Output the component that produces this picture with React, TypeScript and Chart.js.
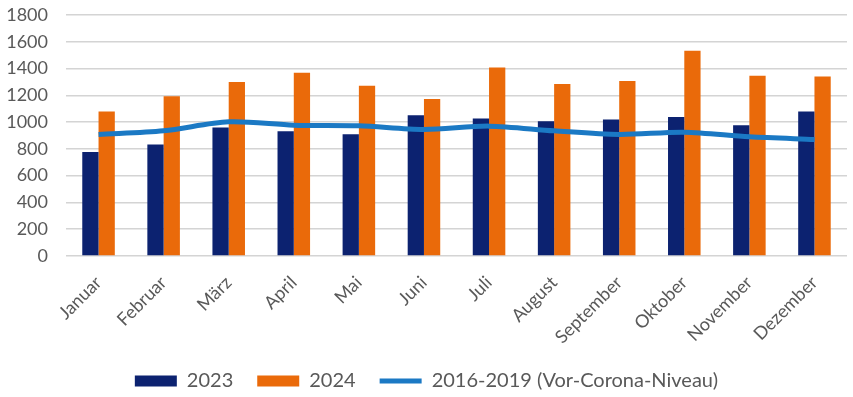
import React, { useEffect, useRef } from "react";
import { Chart, registerables } from "chart.js";

Chart.register(...registerables);

const months = ["Januar", "Februar", "März", "April", "Mai", "Juni", "Juli", "August", "September", "Oktober", "November", "Dezember"];
const values2023 = [776, 833, 960, 932, 910, 1051, 1027, 1007, 1019, 1039, 977, 1079];
const values2024 = [1079, 1193, 1300, 1369, 1272, 1173, 1408, 1285, 1307, 1533, 1347, 1341];
const preCorona = [908, 935, 1002, 977, 972, 945, 970, 935, 908, 925, 890, 870];
const yTicks = [0, 200, 400, 600, 800, 1000, 1200, 1400, 1600, 1800];

const NAVY = "#0c2270";
const ORANGE = "#ea6a0a";
const BLUE = "#1b79c4";
const TEXT = "#595959";
const FONT = "Lato, 'Open Sans', sans-serif";

export default function App() {
  const ref = useRef<HTMLCanvasElement | null>(null);

  useEffect(() => {
    if (!ref.current) return;
    const chart = new Chart(ref.current, {
      type: "bar",
      data: {
        labels: months,
        datasets: [
          {
            type: "bar",
            label: "2023",
            data: values2023,
            backgroundColor: NAVY,
            borderWidth: 0,
            barPercentage: 1,
            categoryPercentage: 0.5,
            order: 2,
          },
          {
            type: "bar",
            label: "2024",
            data: values2024,
            backgroundColor: ORANGE,
            borderWidth: 0,
            barPercentage: 1,
            categoryPercentage: 0.5,
            order: 2,
          },
          {
            type: "line",
            label: "2016-2019 (Vor-Corona-Niveau)",
            data: preCorona,
            borderColor: BLUE,
            backgroundColor: BLUE,
            borderWidth: 5,
            pointRadius: 0,
            tension: 0.3,
            order: 1,
          } as any,
        ],
      },
      options: {
        responsive: false,
        animation: false,
        layout: { padding: { top: 0, right: 6, left: 6, bottom: -4 } },
        plugins: {
          tooltip: { enabled: false },
          legend: {
            position: "bottom",
            labels: {
              color: TEXT,
              font: { family: FONT, size: 20 },
              usePointStyle: true,
              pointStyleWidth: 42,
              boxHeight: 11,
              padding: 24,
              sort: (a: any, b: any) => a.datasetIndex - b.datasetIndex,
              generateLabels: (c: any) => {
                const items = Chart.defaults.plugins.legend.labels.generateLabels(c);
                return items.map((it: any) => {
                  if (it.datasetIndex === 2) {
                    return { ...it, pointStyle: "line", lineWidth: 5, strokeStyle: BLUE, fillStyle: BLUE };
                  }
                  return { ...it, pointStyle: "rect", lineWidth: 0 };
                });
              },
            },
          },
        },
        scales: {
          x: {
            grid: { display: false },
            border: { display: false },
            ticks: {
              color: TEXT,
              font: { family: FONT, size: 18 },
              minRotation: 45,
              maxRotation: 45,
              padding: 8,
            },
            afterFit: (s: any) => {
              s.paddingLeft = 0;
              s.paddingRight = 0;
              s.height = 91;
            },
          },
          y: {
            min: 0,
            max: 1800,
            afterBuildTicks: (axis: any) => {
              axis.ticks = yTicks.map((v) => ({ value: v }));
            },
            grid: { color: "#d4d4d4", lineWidth: 1.5, drawTicks: false },
            border: { display: false },
            ticks: {
              color: TEXT,
              font: { family: FONT, size: 18, lineHeight: 1 },
              padding: 18,
              callback: (v: any) => String(v),
            },
            afterFit: (s: any) => {
              s.paddingTop = 15;
              s.paddingBottom = 0;
              s.width = 60;
            },
          },
        },
      },
    });
    return () => chart.destroy();
  }, []);

  return (
    <div style={{ position: "fixed", left: 0, top: 0, width: 853, height: 397, background: "#fff" }}>
      <canvas ref={ref} width={853} height={397} style={{ display: "block" }} />
    </div>
  );
}
